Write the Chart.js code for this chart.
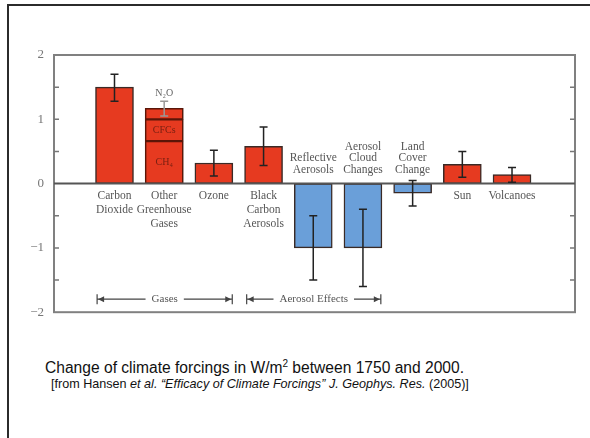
<!DOCTYPE html>
<html>
<head>
<meta charset="utf-8">
<script src="https://cdn.jsdelivr.net/npm/chart.js@4"></script>
<style>
  html, body { margin: 0; padding: 0; background: #fff; overflow: hidden; width: 590px; height: 438px; }
  #frame { position: absolute; left: 7px; top: 4px; width: 700px; height: 700px;
           border-top: 2px solid #2b2b2b; border-left: 2px solid #2b2b2b; }
  #myChart { position: absolute; left: 0; top: 0; }
  .cap { position: absolute; font-family: "Liberation Sans", Arial, sans-serif; color: #111; white-space: nowrap; }
  #cap1 { left: 45px; top: 359px; font-size: 15.6px; }
  #cap1 sup { font-size: 10px; vertical-align: 6px; line-height: 0; }
  #cap2 { left: 51px; top: 377px; font-size: 12.6px; }
</style>
</head>
<body>
<div id="frame"></div>
<canvas id="myChart" width="590" height="330"></canvas>
<div class="cap" id="cap1">Change of climate forcings in W/m<sup>2</sup> between 1750 and 2000.</div>
<div class="cap" id="cap2">[from Hansen <i>et al.</i> <i>“Efficacy of Climate Forcings”</i> <i>J. Geophys. Res.</i> (2005)]</div>
<script>
// forcings in W/m2, one per category
const labels = [
    ['Carbon', 'Dioxide'],
    ['Other', 'Greenhouse', 'Gases'],
    ['Ozone'],
    ['Black', 'Carbon', 'Aerosols'],
    ['Reflective', 'Aerosols'],
    ['Aerosol', 'Cloud', 'Changes'],
    ['Land', 'Cover', 'Change'],
    ['Sun'],
    ['Volcanoes'],
];
const forcing = [1.5, 1.17, 0.32, 0.58, -1.0, -1.0, -0.15, 0.3, 0.14];
const errLow  = [1.28, 1.05, 0.12, 0.28, -1.5, -1.6, -0.35, 0.1, 0.02];
const errHigh = [1.7, 1.28, 0.52, 0.88, -0.5, -0.4, 0.05, 0.5, 0.25];

// split of the "other greenhouse gases" bar
const ghgParts = ['CH₄', 'CFCs', 'N₂O'];
const ghgBounds = [0, 0.66, 1.0, 1.17];

const yTicks = [-2, -1, 0, 1, 2];
const minorTicks = [-1.5, -1, -0.5, 0.5, 1, 1.5];

const groups = [
    { label: 'Gases', from: -0.35, to: 2.37 },
    { label: 'Aerosol Effects', from: 2.66, to: 5.36 },
];

const red = '#e63a20';
const blue = '#6a9fd9';

const mainData = forcing.map((v, i) => ({ x: i, y: v }));
const segSets = ghgParts.map((p, k) => ({
    label: p,
    data: [{ x: 1, y: [ghgBounds[k], ghgBounds[k + 1]] }],
    backgroundColor: red,
    borderColor: '#5a1608',
    borderWidth: 1.5,
    borderSkipped: false,
    grouped: false,
    barThickness: 38,
    order: 0,
}));

const serif = '"Liberation Serif", "DejaVu Serif", serif';

const extras = {
    id: 'extras',
    afterDatasetsDraw(chart) {
        const ctx = chart.ctx;
        const a = chart.chartArea;
        const x = chart.scales.x, y = chart.scales.y;
        ctx.save();

        // frame + zero line
        ctx.strokeStyle = '#808080';
        ctx.lineWidth = 2;
        ctx.strokeRect(a.left, a.top, a.right - a.left, a.bottom - a.top);
        ctx.strokeStyle = '#555';
        ctx.beginPath();
        ctx.moveTo(a.left, y.getPixelForValue(0));
        ctx.lineTo(a.right, y.getPixelForValue(0));
        ctx.stroke();

        // small inward ticks on both sides
        ctx.lineWidth = 1.5;
        ctx.strokeStyle = '#777';
        minorTicks.forEach(v => {
            const py = y.getPixelForValue(v);
            ctx.beginPath();
            ctx.moveTo(a.left, py); ctx.lineTo(a.left + 5, py);
            ctx.moveTo(a.right, py); ctx.lineTo(a.right - 5, py);
            ctx.stroke();
        });

        // error bars
        forcing.forEach((v, i) => {
            const px = x.getPixelForValue(i);
            const lo = y.getPixelForValue(errLow[i]);
            const hi = y.getPixelForValue(errHigh[i]);
            ctx.strokeStyle = i === 1 ? '#999' : '#222';
            ctx.lineWidth = 1.5;
            ctx.beginPath();
            ctx.moveTo(px, lo); ctx.lineTo(px, hi);
            ctx.moveTo(px - 4, lo); ctx.lineTo(px + 4, lo);
            ctx.moveTo(px - 4, hi); ctx.lineTo(px + 4, hi);
            ctx.stroke();
        });

        // category names: below the zero line for positive bars, above for negative ones
        ctx.fillStyle = '#555';
        ctx.font = '11.5px ' + serif;
        ctx.textAlign = 'center';
        ctx.textBaseline = 'middle';
        const y0 = y.getPixelForValue(0);
        labels.forEach((lines, i) => {
            const px = x.getPixelForValue(i);
            if (forcing[i] >= 0) {
                lines.forEach((t, k) => ctx.fillText(t, px, y0 + 12 + k * 14));
            } else {
                lines.forEach((t, k) => ctx.fillText(t, px, y0 - 14 - (lines.length - 1 - k) * 11.5));
            }
        });

        // greenhouse gas part names
        const gx = x.getPixelForValue(1);
        ctx.font = '10px ' + serif;
        ctx.fillStyle = '#7a2012';
        ctx.fillText(ghgParts[0], gx, y.getPixelForValue((ghgBounds[0] + ghgBounds[1]) / 2));
        ctx.fillText(ghgParts[1], gx, y.getPixelForValue((ghgBounds[1] + ghgBounds[2]) / 2));
        ctx.fillStyle = '#666';
        ctx.fillText(ghgParts[2], gx, y.getPixelForValue(ghgBounds[3]) - 15);

        // group brackets
        const gy = a.bottom - 13;
        ctx.font = '11px ' + serif;
        ctx.strokeStyle = '#444';
        ctx.fillStyle = '#555';
        ctx.lineWidth = 1.2;
        groups.forEach(g => {
            const l = x.getPixelForValue(g.from), r = x.getPixelForValue(g.to);
            const c = (l + r) / 2;
            const w = ctx.measureText(g.label).width / 2 + 6;
            ctx.fillText(g.label, c, gy);
            ctx.beginPath();
            ctx.moveTo(l, gy - 5); ctx.lineTo(l, gy + 5);
            ctx.moveTo(r, gy - 5); ctx.lineTo(r, gy + 5);
            ctx.moveTo(l, gy); ctx.lineTo(c - w, gy);
            ctx.moveTo(c + w, gy); ctx.lineTo(r, gy);
            ctx.stroke();
            ctx.beginPath();
            ctx.moveTo(l + 1, gy); ctx.lineTo(l + 7, gy - 3); ctx.lineTo(l + 7, gy + 3); ctx.closePath();
            ctx.moveTo(r - 1, gy); ctx.lineTo(r - 7, gy - 3); ctx.lineTo(r - 7, gy + 3); ctx.closePath();
            ctx.fillStyle = '#444';
            ctx.fill();
            ctx.fillStyle = '#555';
        });

        ctx.restore();
    }
};

const config = {
    type: 'bar',
    data: {
        datasets: [{
            label: 'Forcing',
            data: mainData,
            backgroundColor: forcing.map(v => v >= 0 ? red : blue),
            borderColor: '#3a2a26',
            borderWidth: 1.5,
            borderSkipped: false,
            grouped: false,
            barThickness: 38,
            order: 1,
        }, ...segSets]
    },
    options: {
        responsive: false,
        animation: false,
        layout: { padding: { top: 55, right: 15, bottom: 16, left: 0 } },
        plugins: { legend: { display: false }, tooltip: { enabled: false } },
        scales: {
            x: {
                type: 'linear',
                min: -0.635,
                max: 8.685,
                display: false,
            },
            y: {
                min: -2,
                max: 2,
                afterFit(scale) { scale.width = 54; },
                afterBuildTicks(scale) { scale.ticks = yTicks.map(v => ({ value: v })); },
                grid: { display: false, drawTicks: false },
                border: { display: false },
                ticks: {
                    padding: 10,
                    color: '#777',
                    font: { family: serif, size: 13 },
                    callback: v => String(v).replace('-', '−'),
                },
            },
        },
    },
    plugins: [extras],
};

const myChart = new Chart(document.getElementById('myChart'), config);
</script>
</body>
</html>
